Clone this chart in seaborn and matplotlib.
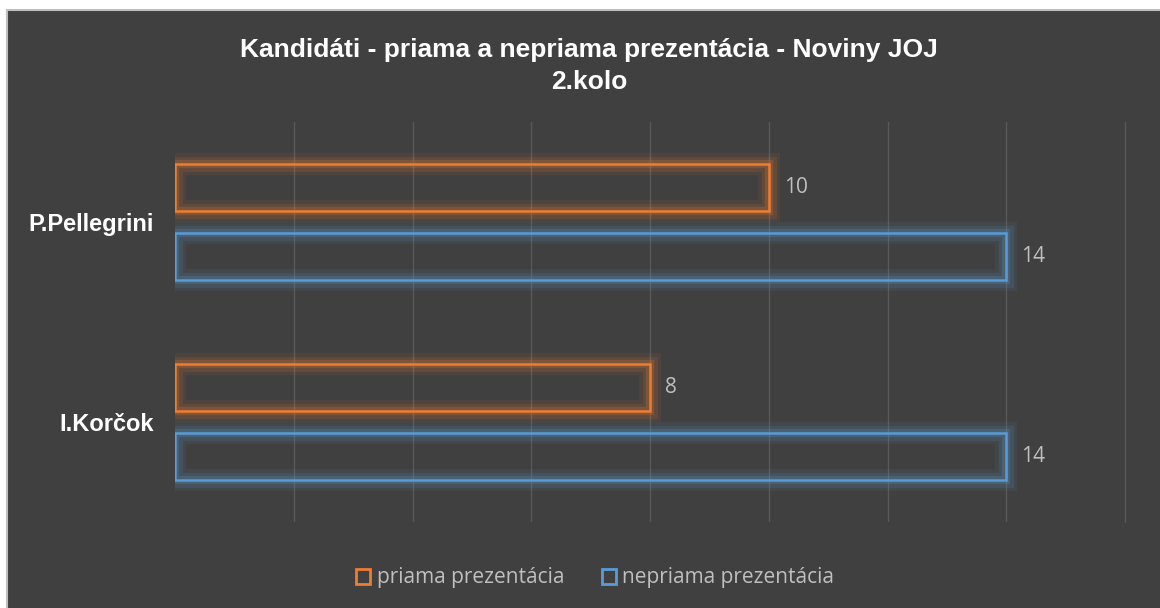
import numpy as np
import pandas as pd
import matplotlib
matplotlib.use("Agg")
import matplotlib.pyplot as plt
import matplotlib.patheffects as pe
from matplotlib.patches import Patch, Rectangle
import seaborn as sns

# Data
kandidati = ["P.Pellegrini", "I.Korčok"]
priama = [10, 8]
nepriama = [14, 14]
serie = ["priama prezentácia", "nepriama prezentácia"]

df = pd.DataFrame({
    "kandidat": kandidati * 2,
    "pocet": priama + nepriama,
    "typ": [serie[0]] * len(kandidati) + [serie[1]] * len(kandidati),
})

# Colors
bg = "#404040"
orange = "#ED7D31"
blue = "#5B9BD5"
grid_col = "#595959"
label_col = "#BFBFBF"

sns.set_style("dark")
plt.rcParams["font.family"] = ["Liberation Sans", "DejaVu Sans"]

fig = plt.figure(figsize=(11.6, 6.08), dpi=100)
fig.patch.set_facecolor("white")
# dark chart area with light border
fig.patches.append(Rectangle((7 / 1160, -0.01), 1.01, 1 - 10 / 608 + 0.01,
                             transform=fig.transFigure, facecolor=bg,
                             edgecolor="#BFBFBF", linewidth=1.5, zorder=-5))

ax = fig.add_axes([175 / 1160, 86 / 608, 950 / 1160, 400 / 608])
ax.set_facecolor(bg)
ax.patch.set_alpha(0)

sns.barplot(data=df, y="kandidat", x="pocet", hue="typ", orient="h",
            hue_order=serie, palette=[orange, blue], width=0.69, gap=0.33,
            fill=False, linewidth=1.8, ax=ax, legend=False)

# glow around bars
for cont, col in zip(ax.containers, [orange, blue]):
    for bar in cont:
        bar.set_edgecolor(col)
        bar.set_path_effects([
            pe.Stroke(linewidth=16, foreground=col, alpha=0.08),
            pe.Stroke(linewidth=11, foreground=col, alpha=0.12),
            pe.Stroke(linewidth=6, foreground=col, alpha=0.22),
            pe.Normal(),
        ])
    ax.bar_label(cont, padding=11, color=label_col, fontsize=15,
                 family="Open Sans")

ax.set_xlim(0, 16)
ax.set_xticks(np.arange(0, 17, 2))
ax.set_ylim(1.5, -0.5)
ax.grid(axis="x", color=grid_col, linewidth=1)
ax.grid(axis="y", visible=False)
ax.set_axisbelow(True)
gl = ax.get_xgridlines()
gl[0].set_visible(False)
gl[-1].set_clip_on(False)
for s in ax.spines.values():
    s.set_visible(False)
ax.tick_params(axis="x", length=0, labelbottom=False)
ax.tick_params(axis="y", length=0, pad=15.5, labelsize=17, labelcolor="white")
for t in ax.get_yticklabels():
    t.set_fontweight("bold")
ax.set_xlabel("")
ax.set_ylabel("")

fig.text(589 / 1160, 1 - 50 / 608, "Kandidáti - priama a nepriama prezentácia - Noviny JOJ",
         ha="center", va="center", fontsize=19, fontweight="bold", color="white")
fig.text(589 / 1160, 1 - 82 / 608, "2.kolo",
         ha="center", va="center", fontsize=19, fontweight="bold", color="white")

handles = [Patch(facecolor="none", edgecolor=c, linewidth=2, label=l)
           for c, l in zip([orange, blue], serie)]
fig.legend(handles=handles, loc="center", ncol=2,
           bbox_to_anchor=(595 / 1160, 1 - 578 / 608), frameon=False,
           handlelength=0.7, handleheight=0.7, handletextpad=0.3,
           columnspacing=1.8, labelcolor=label_col,
           prop={"family": "Open Sans", "size": 15})

fig.savefig("out.png", dpi=100, facecolor=fig.get_facecolor())
